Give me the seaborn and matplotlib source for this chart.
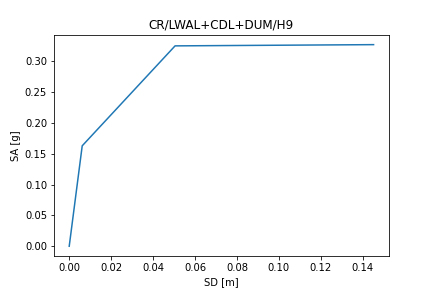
import matplotlib
matplotlib.use("Agg")
import matplotlib.pyplot as plt
import seaborn as sns
import pandas as pd

sd = [0.0, 0.0062, 0.0505, 0.1452]
sa = [0.0, 0.163, 0.3252, 0.3272]

df = pd.DataFrame({"SD": sd, "SA": sa})

fig, ax = plt.subplots(figsize=(6, 4), dpi=72)
sns.lineplot(data=df, x="SD", y="SA", sort=False, estimator=None, ax=ax, color="#1f77b4")
ax.set_xlabel("SD [m]")
ax.set_ylabel("SA [g]")
ax.set_title("CR/LWAL+CDL+DUM/H9")
fig.savefig("out.png", dpi=72)
